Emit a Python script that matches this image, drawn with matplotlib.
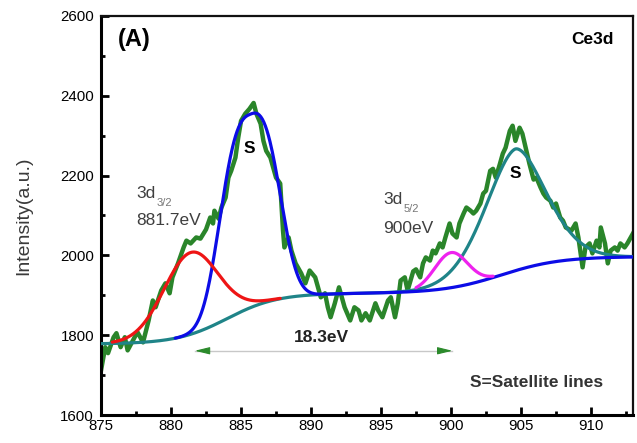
import numpy as np
import matplotlib
matplotlib.use("Agg")
import matplotlib.pyplot as plt
from matplotlib.ticker import MultipleLocator

plt.rcParams['font.family'] = ['Liberation Sans', 'DejaVu Sans']

energy = [875.0, 875.3, 875.5, 875.9, 876.1, 876.4, 876.7, 876.9, 877.4, 877.6,
          878.0, 878.4, 878.7, 878.9, 879.3, 879.6, 879.9, 880.1, 880.5, 880.9,
          881.1, 881.4, 881.8, 882.1, 882.5, 882.8, 883.0, 883.1, 883.4, 883.6,
          883.9, 884.1, 884.3, 884.6, 884.8, 885.0, 885.3, 885.6, 885.9, 886.1,
          886.4, 886.6, 886.8, 887.1, 887.3, 887.5, 887.8, 888.0, 888.1, 888.4,
          888.6, 888.9, 889.3, 889.6, 889.9, 890.3, 890.5, 890.7, 891.0, 891.2,
          891.4, 891.7, 892.0, 892.4, 892.8, 893.1, 893.4, 893.6, 893.9, 894.2,
          894.6, 894.8, 895.1, 895.5, 895.7, 896.0, 896.2, 896.4, 896.7, 896.9,
          897.3, 897.5, 897.8, 898.0, 898.2, 898.5, 898.7, 898.9, 899.2, 899.4,
          899.6, 899.9, 900.1, 900.4, 900.6, 900.9, 901.1, 901.4, 901.6, 901.8,
          902.1, 902.3, 902.5, 902.8, 903.0, 903.2, 903.5, 903.7, 903.9, 904.2,
          904.4, 904.6, 904.9, 905.1, 905.4, 905.6, 905.9, 906.1, 906.4, 906.6,
          906.8, 907.1, 907.3, 907.5, 907.8, 908.0, 908.2, 908.6, 908.9, 909.1,
          909.3, 909.4, 909.6, 909.9, 910.1, 910.4, 910.6, 910.7, 911.0, 911.2,
          911.4, 911.7, 911.9, 912.1, 912.4, 912.6, 913.0]
intensity = [1712, 1770, 1755, 1795, 1805, 1770, 1795, 1762, 1795, 1808,
             1782, 1837, 1887, 1870, 1912, 1930, 1905, 1945, 1980, 2020,
             2037, 2030, 2045, 2042, 2065, 2095, 2080, 2112, 2092, 2120,
             2145, 2195, 2212, 2245, 2295, 2337, 2355, 2367, 2382, 2355,
             2330, 2287, 2262, 2245, 2220, 2195, 2180, 2062, 2020, 2045,
             2012, 1980, 1955, 1930, 1962, 1945, 1920, 1895, 1905, 1870,
             1845, 1880, 1920, 1870, 1837, 1870, 1862, 1837, 1855, 1837,
             1880, 1862, 1845, 1887, 1895, 1845, 1880, 1937, 1945, 1912,
             1960, 1965, 1945, 1980, 1995, 1987, 2012, 2005, 2030, 2020,
             2045, 2080, 2055, 2045, 2080, 2105, 2120, 2112, 2105, 2112,
             2130, 2155, 2162, 2212, 2217, 2195, 2230, 2255, 2270, 2312,
             2325, 2287, 2320, 2305, 2260, 2230, 2190, 2195, 2170, 2155,
             2145, 2137, 2120, 2130, 2095, 2087, 2070, 2062, 2080, 2045,
             1995, 1970, 2020, 2030, 2005, 2037, 2020, 2070, 2030, 1980,
             2012, 2020, 2012, 2030, 2020, 2030, 2055]

# ---- fitted background (two-step) ----
bg_base = 1778
bg_step_heights = [127, 92]
bg_step_centers = [884.0, 903.6]
bg_step_widths = [1.8, 2.1]

# ---- fitted peak components ----
peak_centers = [881.4, 885.65, 900.0, 904.6]
peak_heights = [205, 485, 88, 305]
peak_widths = [2.76, 2.55, 1.67, 3.12]
peak_shapes = [2.0, 2.8, 2.0, 1.75]
peak_colors = ['#ee1515', '#0c0ce6', '#ee22ee', '#1f8488']
peak_ranges = [(875.8, 887.8), (880.3, 913.0), (897.5, 903.0), (875.0, 913.0)]
peak_z = [5, 4, 5, 3]

xticks = [875, 880, 885, 890, 895, 900, 905, 910]
yticks = [1600, 1800, 2000, 2200, 2400, 2600]


def background(x):
    y = np.full_like(x, bg_base, dtype=float)
    for h, c, w in zip(bg_step_heights, bg_step_centers, bg_step_widths):
        y += h / (1.0 + np.exp(-(x - c) / w))
    return y


def component(x, i):
    return peak_heights[i] * np.exp(-np.abs((x - peak_centers[i]) / peak_widths[i]) ** peak_shapes[i])


fig = plt.figure(figsize=(6.37, 4.43), dpi=100)
ax = fig.add_axes([0.1586, 0.0632, 0.8351, 0.9007])

ax.plot(energy, intensity, color='#2a852a', lw=3.2, zorder=2, solid_joinstyle='round')

for i in range(4):
    lo, hi = peak_ranges[i]
    xx = np.linspace(lo, hi, 600)
    ax.plot(xx, background(xx) + component(xx, i), color=peak_colors[i], lw=2.3,
            zorder=peak_z[i], solid_capstyle='round')

ax.set_xlim(875, 913)
ax.set_ylim(1600, 2600)
ax.set_xticks(xticks)
ax.set_yticks(yticks)
ax.xaxis.set_minor_locator(MultipleLocator(2.5))
ax.yaxis.set_minor_locator(MultipleLocator(100))
ax.tick_params(which='both', direction='in', width=2.0, labelsize=10.8, top=False, right=False)
ax.tick_params(which='major', length=5.5)
ax.tick_params(which='minor', length=3)
ax.tick_params(axis='x', pad=3)
ax.tick_params(axis='y', pad=5)

for s in ['left', 'bottom']:
    ax.spines[s].set_linewidth(2.2)
for s in ['top', 'right']:
    ax.spines[s].set_linewidth(1.6)
    ax.spines[s].set_color('#111111')

ax.set_ylabel('Intensity(a.u.)', fontsize=14, color='#3a3a3a', labelpad=20)

ax.text(876.2, 2540, '(A)', fontsize=17, fontweight='bold', va='center', ha='left')
ax.text(911.6, 2540, 'Ce3d', fontsize=12.5, fontweight='bold', va='center', ha='right')
ax.text(885.6, 2268, 'S', fontsize=12.5, fontweight='bold', va='center', ha='center')
ax.text(904.6, 2205, 'S', fontsize=12.5, fontweight='bold', va='center', ha='center')

tc = '#3f3f3f'
ax.text(877.55, 2145, '3d', fontsize=12.5, color=tc, va='baseline', ha='left')
ax.text(879.0, 2124, '3/2', fontsize=8, color='#777777', va='baseline', ha='left')
ax.text(877.55, 2075, '881.7eV', fontsize=12.5, color=tc, va='baseline', ha='left')
ax.text(895.15, 2130, '3d', fontsize=12.5, color=tc, va='baseline', ha='left')
ax.text(896.6, 2108, '5/2', fontsize=8, color='#777777', va='baseline', ha='left')
ax.text(895.15, 2057, '900eV', fontsize=12.5, color=tc, va='baseline', ha='left')

ax.text(890.75, 1783, '18.3eV', fontsize=12.5, fontweight='bold', color='#222222',
        va='baseline', ha='center')
arr_y = 1761
ax.plot([881.7, 900.1], [arr_y, arr_y], color='#c8c8c8', lw=1.0, zorder=1)
for tip, tail in [(881.7, 882.6), (900.1, 899.2)]:
    ax.annotate('', xy=(tip, arr_y), xytext=(tail, arr_y),
                arrowprops=dict(arrowstyle='-|>,head_length=0.9,head_width=0.22',
                                color='#2b8a2b', lw=0.8, shrinkA=0, shrinkB=0))

ax.text(901.35, 1670, 'S=Satellite lines', fontsize=12.5, fontweight='bold',
        color='#333333', va='baseline', ha='left')

fig.savefig('out.png', dpi=100)
